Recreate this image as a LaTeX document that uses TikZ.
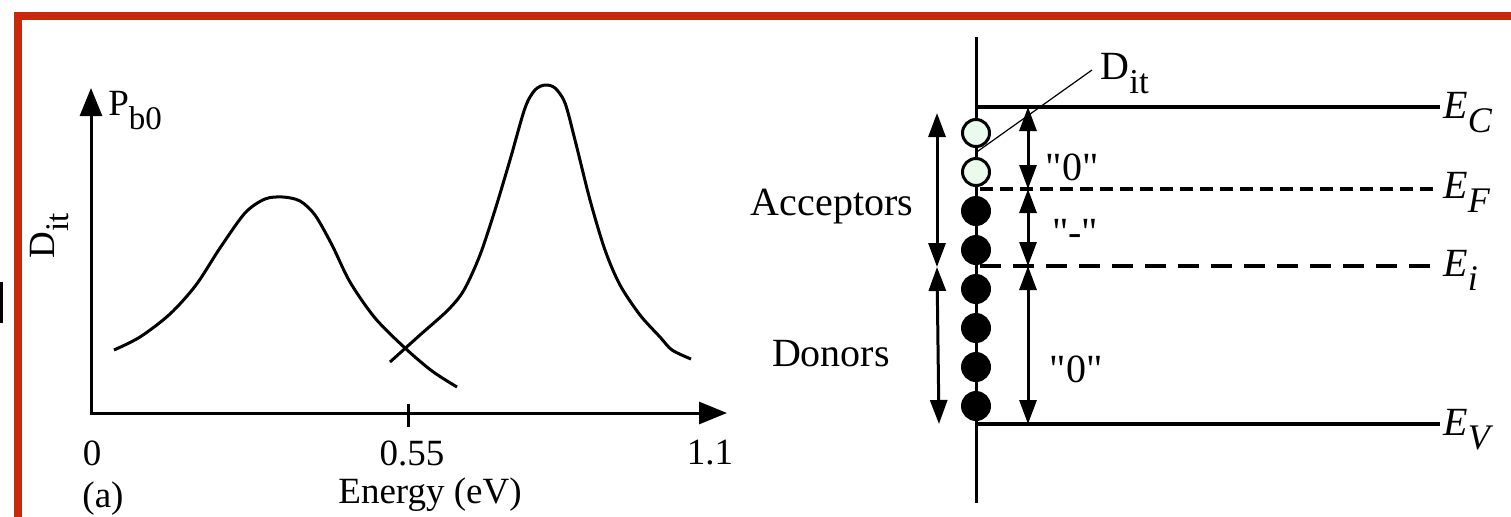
\documentclass[tikz,border=0pt]{standalone}
\usepackage{fontspec}
\setmainfont{Liberation Serif}[Ligatures=TeXOff]
\usepackage{tikz}
\usetikzlibrary{arrows.meta,positioning,calc}
\definecolor{framered}{RGB}{200,40,12}
\definecolor{paletrap}{RGB}{234,250,236}
\newcommand{\lowsub}[2][16.5]{\raisebox{-7pt}{\fontsize{#1}{#1}\selectfont #2}}

\begin{document}
\begin{tikzpicture}[x=0.5pt,y=-0.5pt,node distance=4.5pt]
  \tikzstyle{lbl}=[inner sep=0pt,font=\fontsize{18.5}{22}\selectfont]
  \tikzstyle{bandlbl}=[inner sep=0pt,font=\fontsize{20}{24}\selectfont]
  \tikzstyle{trap}=[circle,draw=black,line width=1.5pt,minimum size=13.5pt,inner sep=0pt]
  \tikzstyle{freetrap}=[trap,fill=paletrap]
  \tikzstyle{filledtrap}=[trap,fill=black]
  \tikzstyle{axisarrow}=[{Triangle[length=14pt,width=11pt]}-{Triangle[length=14pt,width=11pt]},line width=1.5pt]
  \tikzstyle{spanarrow}=[{Triangle[length=12pt,width=8.5pt]}-{Triangle[length=12pt,width=8.5pt]},line width=1.5pt]
  \tikzstyle{bandline}=[line width=1.7pt]
  \useasboundingbox (0,0) rectangle (1511,516);
  \draw[framered,line width=4pt] (17.5,520) -- (17.5,16) -- (1515,16);
  \fill (0,282) rectangle (3,323);
  % (a) trap density
  \coordinate (ytop) at (91,88);
  \coordinate (o) at (91,413);
  \coordinate (xend) at (727,413);
  \draw[axisarrow] (ytop) -- (o) -- (xend);
  \draw[line width=1.5pt] (408,404) -- (408,427);
  \node[lbl,anchor=base west] (pb) at (108,115) {P\lowsub{b0}};
  \node[lbl,rotate=90] (ylbl) at (50,236) {D\lowsub{it}};
  \node[lbl] (x0) at (92,453) {0};
  \node[lbl] (xmid) at (412,453) {0.55};
  \node[lbl] (xmax) at (710,453) {1.1};
  \node[lbl,anchor=base] (xlbl) at (430,503) {Energy (eV)};
  \node[lbl,anchor=base] (tag) at (103,507) {(a)};
  \draw[line width=1.5pt,line join=round] plot[smooth,tension=0.5] coordinates {(114,350) (140,337) (170,314) (196,285) (220,248) (245,213) (265,199) (283,197) (300,201) (315,215) (332,245) (350,282) (375,318) (405,348) (432,371) (457,387)};
  \draw[line width=1.5pt,line join=round] plot[smooth,tension=0.5] coordinates {(390,362) (420,335) (448,310) (464,290) (480,255) (495,210) (510,160) (525,108) (535,90) (545,85) (555,88) (565,103) (575,140) (590,200) (605,250) (620,285) (640,315) (660,337) (672,350) (691,359)};
  % (b) band diagram
  \coordinate (itop) at (976,37);
  \coordinate (ibot) at (976,503);
  \draw[line width=1.5pt] (itop) -- (ibot);
  \coordinate (ec) at (976,107);
  \coordinate (ecr) at (1440,107);
  \coordinate (ef) at (980,189);
  \coordinate (efr) at (1440,189);
  \coordinate (ei) at (980,266);
  \coordinate (eir) at (1440,266);
  \coordinate (ev) at (976,424);
  \coordinate (evr) at (1440,424);
  \draw[bandline] (ec) -- (ecr);
  \draw[bandline,dash pattern=on 6.5pt off 3.5pt] (ef) -- (efr);
  \draw[bandline,dash pattern=on 10.5pt off 6pt] (ei) -- (eir);
  \draw[bandline] (ev) -- (evr);
  \node[bandlbl,anchor=base west] (eclbl) at (1443,118) {\textit{E}\lowsub[18]{\textit{C}}};
  \node[bandlbl,anchor=base west] (eflbl) at (1443,198) {\textit{E}\lowsub[18]{\textit{F}}};
  \node[bandlbl,anchor=base west] (eilbl) at (1443,276) {\textit{E}\lowsub[18]{\textit{i}}};
  \node[bandlbl,anchor=base west] (evlbl) at (1443,435) {\textit{E}\lowsub[18]{\textit{V}}};
  \node[freetrap] (t1) at (976,133) {};
  \node[freetrap,below=of t1] (t2) {};
  \node[filledtrap,below=of t2] (t3) {};
  \node[filledtrap,below=of t3] (t4) {};
  \node[filledtrap,below=of t4] (t5) {};
  \node[filledtrap,below=of t5] (t6) {};
  \node[filledtrap,below=of t6] (t7) {};
  \node[filledtrap,below=of t7] (t8) {};
  \node[bandlbl,anchor=base west] (dit) at (1100,79) {D\lowsub[17.5]{it}};
  \coordinate (ditfoot) at (1092,70);
  \draw[line width=0.6pt] (ditfoot) -- ($(t1)!0.5!(t2)$);
  \coordinate (acctop) at (937,113);
  \coordinate (accbot) at (937,267);
  \coordinate (donbot) at (939,424);
  \draw[spanarrow] (acctop) -- (accbot);
  \draw[spanarrow] (accbot) -- (donbot);
  \node[bandlbl,anchor=base] (acc) at (832,215) {Acceptors};
  \node[bandlbl,anchor=base] (don) at (831,366) {Donors};
  \coordinate (c1) at (1028,107);
  \coordinate (f1) at (1028,189);
  \coordinate (i1) at (1028,266);
  \coordinate (v1) at (1028,424);
  \draw[spanarrow] (c1) -- (f1);
  \draw[spanarrow] (f1) -- (i1);
  \draw[spanarrow] (i1) -- (v1);
  \node[bandlbl,anchor=base] (q1) at (1072,180) {"0"};
  \node[bandlbl,anchor=base] (q2) at (1075,245) {"-"};
  \node[bandlbl,anchor=base] (q3) at (1076,382) {"0"};
\end{tikzpicture}
\end{document}
